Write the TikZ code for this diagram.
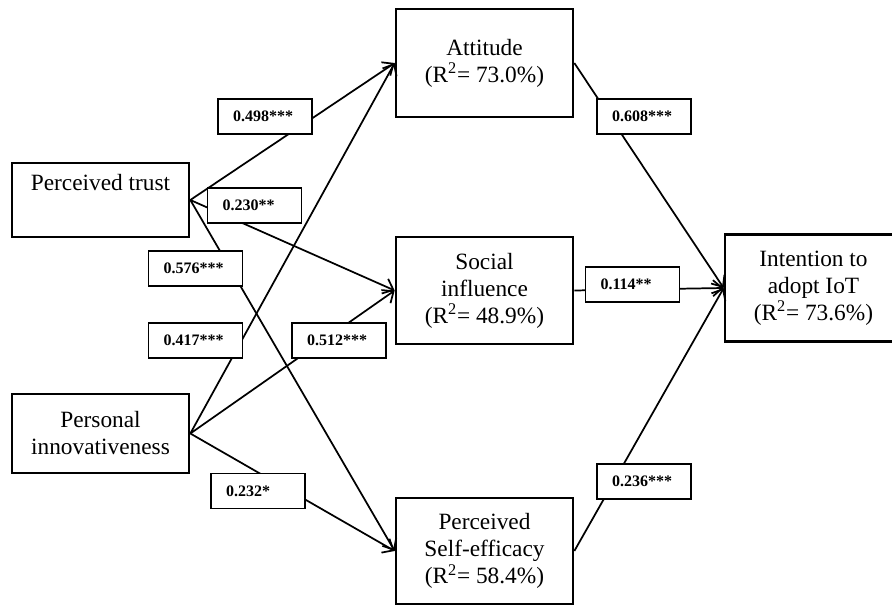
\documentclass[tikz,border=0pt]{standalone}
\usepackage{fontspec}
\setmainfont{Liberation Serif}
\usepackage{tikz}
\usetikzlibrary{
	arrows.meta,
	positioning,
}
\tikzset{var node/.style={
	draw,
	rectangle,
	line width=2pt,
	inner sep=0pt,
	minimum width=132.75pt,
	align=center,
	font=\fontsize{17.5}{20.25}\selectfont,
}}
\tikzset{coef/.style={
	draw,
	fill=white,
	line width=1.3pt,
	inner xsep=11.25pt,
	inner ysep=0pt,
	minimum height=26.25pt,
	text width=48pt,
	align=left,
	font=\fontsize{12}{13}\selectfont\bfseries,
}}
\tikzset{link/.style={
	-{Straight Barb[length=7pt,width=12pt]},
	line width=1.3pt,
}}

\begin{document}
\begin{tikzpicture}[x=0.75pt, y=-0.75pt]
\useasboundingbox (0,0) rectangle (892,605);

\node[var node, minimum height=55.5pt](pt) 	at (100.5,200) {Perceived trust\\\strut};
\node[var node, minimum height=59.25pt](pi) at (100.5,433.5) {Personal\\innovativeness};

\node[var node, minimum height=81pt](att) 	at (484.5,63) {Attitude\\(R\textsuperscript{2}= 73.0\%)};
\node[var node, minimum height=80.25pt](si) at (484.5,290.5) {Social\\influence\\(R\textsuperscript{2}= 48.9\%)};
\node[var node, minimum height=79.5pt](pse) at (484.5,551) {Perceived\\Self-efficacy\\(R\textsuperscript{2}= 58.4\%)};

\node[var node, minimum height=80.25pt](int) at (813.5,288) {Intention to\\adopt IoT\\(R\textsuperscript{2}= 73.6\%)};

% trust -> mediators
\draw[link] (pt.east) -- (att.west);
\draw[link] (pt.east) -- (si.west);
\draw[link] (pt.east) -- (pse.west);

% innovativeness -> mediators
\draw[link] (pi.east) -- (att.west);
\draw[link] (pi.east) -- (si.west);
\draw[link] (pi.east) -- (pse.west);

% mediators -> intention
\draw[link] (att.east) -- (int.west);
\draw[link] (si.east) -- (int.west);
\draw[link] (pse.east) -- (int.west);

% path coefficients
\node[coef](c-pt-att) 	at (265,116.5) {0.498***};
\node[coef](c-pt-si) 	at (254.5,205.5) {0.230**};
\node[coef](c-pt-pse) 	at (195.5,268.5) {0.576***};
\node[coef](c-pi-att) 	at (195.5,340.5) {0.417***};
\node[coef](c-pi-si) 	at (339,340.5) {0.512***};
\node[coef](c-pi-pse) 	at (258,491) {0.232*};
\node[coef](c-att-int) 	at (644,116.5) {0.608***};
\node[coef](c-si-int) 	at (632.5,284.5) {0.114**};
\node[coef](c-pse-int) 	at (644,481.5) {0.236***};

\end{tikzpicture}
\end{document}
